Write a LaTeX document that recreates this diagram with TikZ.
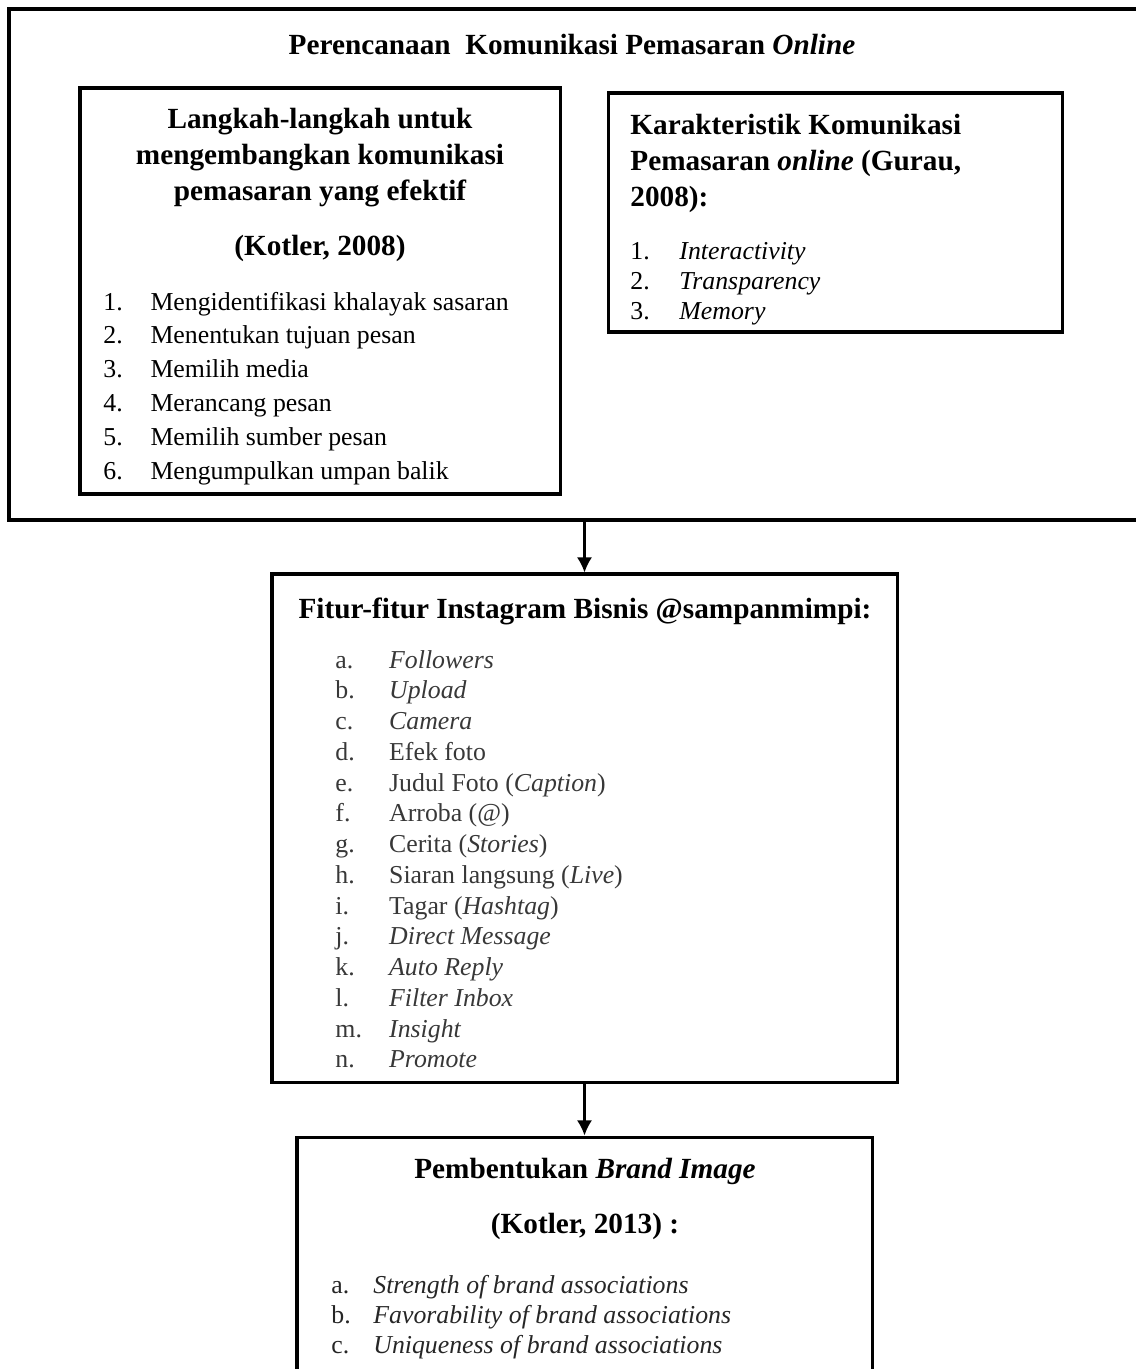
\documentclass[tikz,border=0pt]{standalone}
\usepackage{fontspec}
\setmainfont{Liberation Serif}
\usetikzlibrary{positioning,fit,arrows.meta}
\tikzset{
  >={Latex[length=7pt,width=7pt]},
}
\tikzstyle{box}=[draw,line width=1.4pt,inner sep=0pt]
\tikzstyle{head}=[inner sep=0pt,font=\fontsize{13.6}{16.7}\selectfont\bfseries]
\tikzstyle{list}=[inner sep=0pt,anchor=base west]
\tikzstyle{link}=[->,line width=1pt]

\begin{document}
\begin{tikzpicture}[x=0.465pt,y=-0.465pt]
        \useasboundingbox (0,0) rectangle (1135,1369);
        % frames
        \node[box,fit={(9,9) (1160,520)}] (plan) {};
        \node[box,fit={(80,88) (560,494)}] (steps) {};
        \node[box,fit={(608,93) (1062,332)}] (traits) {};
        \node[box,fit={(272,574) (897,1082)}] (feat) {};
        \node[box,fit={(297,1137) (872,1420)}] (brand) {};
        % planning
        \node[head,anchor=base] (plantitle) at (572,55) {Perencanaan\ \ Komunikasi Pemasaran \textit{Online}};
        \node[head,anchor=base] (stepstitle) at (320,129) {\begin{tabular}[t]{@{}c@{}}Langkah-langkah untuk\\mengembangkan komunikasi\\pemasaran yang efektif\end{tabular}};
        \node[head,anchor=base] (stepsref) at (320,256) {(Kotler, 2008)};
        \node[list,font=\fontsize{12}{15.8}\selectfont] (stepslist) at (103,310) {\begin{tabular}[t]{@{}p{21.9pt}@{}l@{}}
          1. & Mengidentifikasi khalayak sasaran\\
          2. & Menentukan tujuan pesan\\
          3. & Memilih media\\
          4. & Merancang pesan\\
          5. & Memilih sumber pesan\\
          6. & Mengumpulkan umpan balik
        \end{tabular}};
        \node[head,anchor=base west] (traitstitle) at (630,135) {\begin{tabular}[t]{@{}l@{}}Karakteristik Komunikasi\\Pemasaran \textit{online} (Gurau,\\2008):\end{tabular}};
        \node[list,font=\fontsize{12}{14}\selectfont] (traitslist) at (630,259) {\begin{tabular}[t]{@{}p{22.8pt}@{}l@{}}
          1. & \textit{Interactivity}\\
          2. & \textit{Transparency}\\
          3. & \textit{Memory}
        \end{tabular}};
        % instagram features
        \node[head,anchor=base] (feattitle) at (585,618) {Fitur-fitur Instagram Bisnis @sampanmimpi:};
        \node[list,text=black!78,font=\fontsize{12}{14.3}\selectfont] (featlist) at (335,668) {\begin{tabular}[t]{@{}p{25pt}@{}l@{}}
          a. & \textit{Followers}\\
          b. & \textit{Upload}\\
          c. & \textit{Camera}\\
          d. & Efek foto\\
          e. & Judul Foto (\textit{Caption})\\
          f. & Arroba (@)\\
          g. & Cerita (\textit{Stories})\\
          h. & Siaran langsung (\textit{Live})\\
          i. & Tagar (\textit{Hashtag})\\
          j. & \textit{Direct Message}\\
          k. & \textit{Auto Reply}\\
          l. & \textit{Filter Inbox}\\
          m. & \textit{Insight}\\
          n. & \textit{Promote}
        \end{tabular}};
        % brand image
        \node[head,anchor=base] (brandtitle) at (585,1178) {Pembentukan \textit{Brand Image}};
        \node[head,anchor=base] (brandref) at (585,1233) {(Kotler, 2013) :};
        \node[list,text=black!85,font=\fontsize{12}{14}\selectfont] (brandlist) at (331,1293) {\begin{tabular}[t]{@{}p{19.5pt}@{}l@{}}
          a. & \textit{Strength of brand associations}\\
          b. & \textit{Favorability of brand associations}\\
          c. & \textit{Uniqueness of brand associations}
        \end{tabular}};
        % arrows
        \draw[link] (feat.north |- plan.south) -- (feat.north);
        \draw[link] (feat.south) -- (brand.north);
      \end{tikzpicture}
\end{document}
